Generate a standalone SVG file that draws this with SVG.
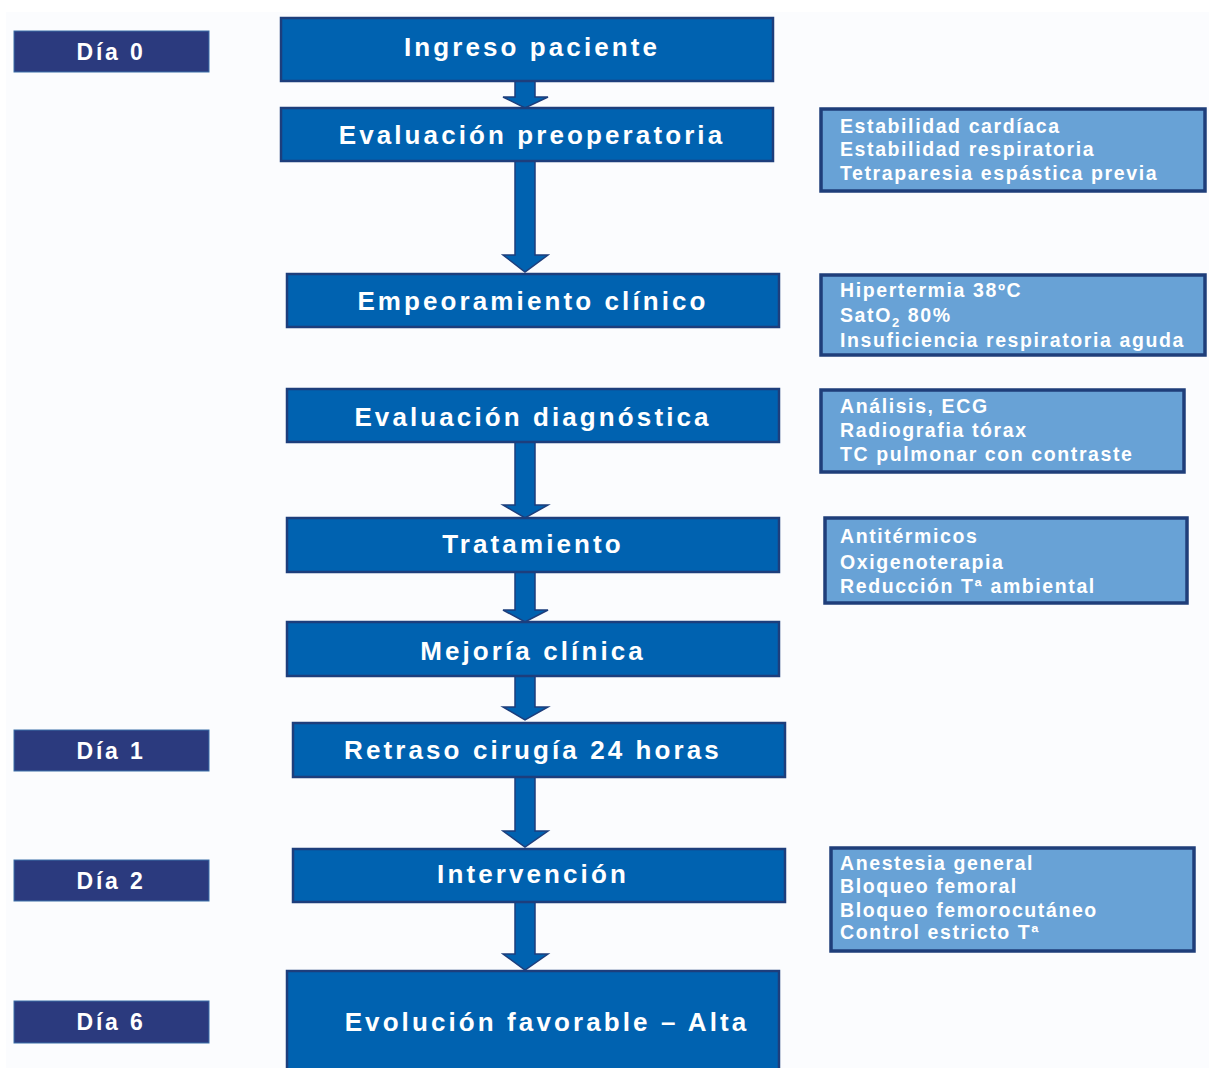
<svg xmlns="http://www.w3.org/2000/svg" width="1209" height="1068" viewBox="0 0 1209 1068">
<defs>
<style>
.main{fill:#0062b0;stroke:#1d3e7c;stroke-width:2.5}
.day{fill:#2b3a7e;stroke:#3a6fa8;stroke-width:1}
.side{fill:#68a2d6;stroke:#1f3e7a;stroke-width:3.5}
.mt{font-family:"Liberation Sans",Arial,sans-serif;font-weight:bold;font-size:26px;fill:#fff;text-anchor:middle;letter-spacing:3.1px}
.dt{font-family:"Liberation Sans",Arial,sans-serif;font-weight:bold;font-size:23px;fill:#fff;text-anchor:middle;letter-spacing:2.8px}
.st{font-family:"Liberation Sans",Arial,sans-serif;font-weight:bold;font-size:19.5px;fill:#fff;letter-spacing:1.6px}
.arr{fill:#0062b0;stroke:#1d3e7c;stroke-width:1.5;stroke-linejoin:miter}
</style>
</defs>
<rect x="0" y="0" width="1209" height="1068" fill="#ffffff"/>
<rect x="6" y="12" width="1203" height="1056" fill="#fbfcfe"/>

<g id="connectors">
<path class="arr" d="M515,81 V97 H503 L525,108 L548,97 H535 V81 Z"/>
<path class="arr" d="M515,161 V255 H503 L525,272 L548,255 H535 V161 Z"/>
<path class="arr" d="M515,442 V505 H503 L525,518 L548,505 H535 V442 Z"/>
<path class="arr" d="M515,572 V610 H503 L525,622 L548,610 H535 V572 Z"/>
<path class="arr" d="M515,676 V707 H503 L525,720 L548,707 H535 V676 Z"/>
<path class="arr" d="M515,777 V831 H503 L525,847 L548,831 H535 V777 Z"/>
<path class="arr" d="M515,902 V954 H503 L525,970 L548,954 H535 V902 Z"/>
</g>

<g id="day0"><rect class="day" x="14" y="31" width="195" height="41"/><text class="dt" x="111" y="60">Día 0</text></g>
<g id="day1"><rect class="day" x="14" y="730" width="195" height="41"/><text class="dt" x="111" y="759">Día 1</text></g>
<g id="day2"><rect class="day" x="14" y="860" width="195" height="41"/><text class="dt" x="111" y="889">Día 2</text></g>
<g id="day6"><rect class="day" x="14" y="1001" width="195" height="42"/><text class="dt" x="111" y="1030">Día 6</text></g>

<g id="ingreso"><rect class="main" x="281" y="18" width="492" height="63"/><text class="mt" x="532" y="56">Ingreso paciente</text></g>
<g id="evalpre"><rect class="main" x="281" y="108" width="492" height="53"/><text class="mt" x="532" y="144">Evaluación preoperatoria</text></g>
<g id="empeora"><rect class="main" x="287" y="274" width="492" height="53"/><text class="mt" x="533" y="310">Empeoramiento clínico</text></g>
<g id="evaldiag"><rect class="main" x="287" y="389" width="492" height="53"/><text class="mt" x="533" y="426">Evaluación diagnóstica</text></g>
<g id="trat"><rect class="main" x="287" y="518" width="492" height="54"/><text class="mt" x="533" y="553">Tratamiento</text></g>
<g id="mejoria"><rect class="main" x="287" y="622" width="492" height="54"/><text class="mt" x="533" y="660">Mejoría clínica</text></g>
<g id="retraso"><rect class="main" x="293" y="723" width="492" height="54"/><text class="mt" x="533" y="759">Retraso cirugía 24 horas</text></g>
<g id="interv"><rect class="main" x="293" y="849" width="492" height="53"/><text class="mt" x="533" y="883">Intervención</text></g>
<g id="evol"><rect class="main" x="287" y="971" width="492" height="100"/><text class="mt" x="547" y="1031">Evolución favorable – Alta</text></g>

<g id="side1"><rect class="side" x="821" y="109" width="384" height="82"/>
<text class="st" x="840" y="133">Estabilidad cardíaca</text>
<text class="st" x="840" y="156">Estabilidad respiratoria</text>
<text class="st" x="840" y="180">Tetraparesia espástica previa</text></g>
<g id="side2"><rect class="side" x="821" y="275" width="384" height="80"/>
<text class="st" x="840" y="297">Hipertermia 38ºC</text>
<text class="st" x="840" y="322">SatO<tspan font-size="13" dy="5">2</tspan><tspan dy="-5"> 80%</tspan></text>
<text class="st" x="840" y="347">Insuficiencia respiratoria aguda</text></g>
<g id="side3"><rect class="side" x="821" y="390" width="363" height="82"/>
<text class="st" x="840" y="413">Análisis, ECG</text>
<text class="st" x="840" y="437">Radiografia tórax</text>
<text class="st" x="840" y="461">TC pulmonar con contraste</text></g>
<g id="side4"><rect class="side" x="825" y="518" width="362" height="85"/>
<text class="st" x="840" y="543">Antitérmicos</text>
<text class="st" x="840" y="569">Oxigenoterapia</text>
<text class="st" x="840" y="593">Reducción Tª ambiental</text></g>
<g id="side5"><rect class="side" x="831" y="848" width="363" height="103"/>
<text class="st" x="840" y="870">Anestesia general</text>
<text class="st" x="840" y="893">Bloqueo femoral</text>
<text class="st" x="840" y="917">Bloqueo femorocutáneo</text>
<text class="st" x="840" y="939">Control estricto Tª</text></g>
</svg>
